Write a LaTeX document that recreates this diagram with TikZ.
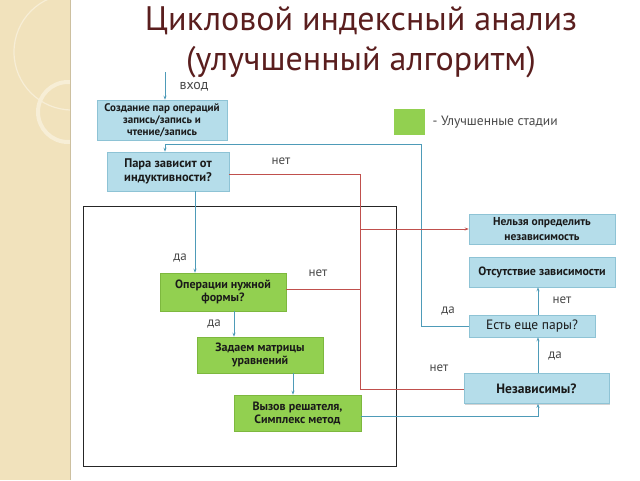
\documentclass[tikz,border=0pt]{standalone}
\usepackage{fontspec}
\setmainfont{PT Sans}
\usetikzlibrary{arrows.meta,shadows}
\definecolor{band}{HTML}{F1E2BC}
\definecolor{bandln}{HTML}{F7EED6}
\definecolor{ttl}{HTML}{5A1E1E}
\definecolor{blu}{HTML}{B5DDEA}
\definecolor{bluedge}{HTML}{8EC3D5}
\definecolor{grn}{HTML}{92D050}
\definecolor{grnedge}{HTML}{7DB83E}
\definecolor{redl}{HTML}{C0504D}
\definecolor{blul}{HTML}{4E9BB8}
\definecolor{txt}{HTML}{1A1A1A}
\tikzset{
  bbox/.style={draw=bluedge, fill=blu, line width=0.5pt, text=txt, font=\fontsize{12}{13}\selectfont\bfseries,
    align=center, inner sep=1pt, drop shadow={shadow xshift=1.2pt, shadow yshift=-1.2pt, opacity=0.35}},
  gbox/.style={bbox, draw=grnedge, fill=grn},
  no/.style={draw=redl, line width=0.9pt},
  yes/.style={draw=blul, line width=0.9pt},
  tip/.style={-{Stealth[length=4pt,width=3pt]}},
  lab/.style={text=txt!80, font=\fontsize{13}{15}\selectfont},
}
\begin{document}
\begin{tikzpicture}[x=1pt,y=-1pt]
  \useasboundingbox (0,0) rectangle (640,480);
  % side band
  \fill[band] (0,0) rectangle (70,480);
  \begin{scope}
    \clip (0,0) rectangle (70,480);
    \draw[bandln, line width=1.2pt] (72,52) circle (58);
    \draw[bandln, line width=4pt] (68,112) circle (30);
  \end{scope}
  \draw[band!85!black, line width=0.4pt] (70,0) -- (70,480);

  % title
  \node[text=ttl, font=\fontsize{34}{40}\selectfont, align=center] (title) at (361,42)
    {Цикловой индексный анализ\\(улучшенный алгоритм)};

  % legend
  \fill[grn] (394,109) rectangle (425,135);
  \node[lab, anchor=west, font=\fontsize{13.5}{15}\selectfont] (legend) at (429,122) {- Улучшенные стадии};

  % frame round the improved stages
  \draw[black!85, line width=1pt] (83,206) rectangle (396,466);

  % boxes
  \node[bbox, minimum width=130pt, minimum height=40pt, font=\fontsize{11}{12}\selectfont\bfseries] (make) at (162,120)
    {Создание пар операций\\запись/запись и\\чтение/запись};
  \node[bbox, minimum width=122pt, minimum height=39pt, font=\fontsize{12.5}{14}\selectfont\bfseries] (induct) at (168,171.5)
    {Пара зависит от\\индуктивности?};
  \node[gbox, minimum width=126pt, minimum height=38pt] (form) at (223,292)
    {Операции нужной\\формы?};
  \node[gbox, minimum width=126pt, minimum height=36pt] (matr) at (260,355)
    {Задаем матрицы\\уравнений};
  \node[gbox, minimum width=127pt, minimum height=36pt] (solv) at (297.5,413)
    {Вызов решателя,\\Симплекс метод};
  \node[bbox, minimum width=146pt, minimum height=30pt, font=\fontsize{11.5}{15}\selectfont\bfseries] (undef) at (542,229)
    {Нельзя определить\\независимость};
  \node[bbox, minimum width=146pt, minimum height=30pt] (nodep) at (542,272)
    {Отсутствие зависимости};
  \node[bbox, minimum width=126pt, minimum height=22pt, font=\fontsize{13.5}{15}\selectfont] (more) at (532,326)
    {Есть еще пары?};
  \node[bbox, minimum width=145pt, minimum height=30pt, font=\fontsize{13.5}{15}\selectfont\bfseries] (indep) at (536.5,388.5)
    {Независимы?};

  % blue connectors
  \coordinate (in) at (165,72);
  \draw[yes, tip] (in) -- (make.north -| in);
  \draw[yes, tip] (more.west) -- (421,326) -- (421,144) -- (165,144) -- (induct.north -| in);
  \draw[yes, tip] (induct.south -| 195,0) -- (form.north -| 195,0);
  \draw[yes, tip] (form.south -| 234,0) -- (matr.north -| 234,0);
  \draw[yes, tip] (matr.south -| 293,0) -- (solv.north -| 293,0);
  \draw[yes, tip] (solv.east |- 0,416) -- (538,416) -- (indep.south -| 538,0);
  \draw[yes, tip] (indep.north -| 538,0) -- (more.south -| 538,0);
  \draw[yes, tip] (more.north -| 538,0) -- (nodep.south -| 538,0);

  % red connectors
  \draw[no] (induct.east |- 0,174) -- (360,174) -- (360,389) -- (indep.west |- 0,389);
  \draw[no] (form.east |- 0,289) -- (360,289);
  \draw[no, tip] (360,229) -- (undef.west);

  % labels
  \node[lab, font=\fontsize{14}{16}\selectfont] (lin) at (194,87) {вход};
  \node[lab] (l1) at (281,161) {нет};
  \node[lab] (l2) at (180,258) {да};
  \node[lab] (l3) at (318,273) {нет};
  \node[lab] (l4) at (214,324) {да};
  \node[lab] (l5) at (448,311) {да};
  \node[lab] (l6) at (562,300) {нет};
  \node[lab] (l7) at (555,356) {да};
  \node[lab] (l8) at (439,368) {нет};
\end{tikzpicture}
\end{document}
